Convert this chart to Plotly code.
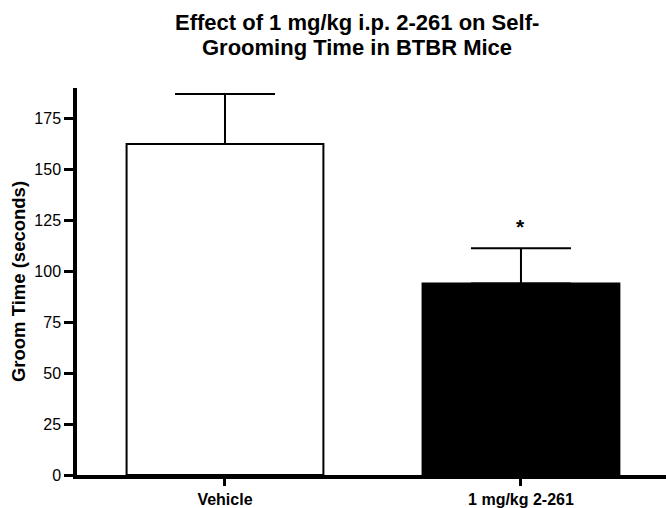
import plotly.graph_objects as go

categories = ["Vehicle", "1 mg/kg 2-261"]
means = [162.5, 94.0]
sem = [24.6, 17.3]
bar_colors = ["white", "black"]
y_ticks = [0, 25, 50, 75, 100, 125, 150, 175]
sig_marks = ["", "*"]
title_lines = ["Effect of 1 mg/kg i.p. 2-261 on Self-", "Grooming Time in BTBR Mice"]

FONT = "Liberation Sans, Arial, Helvetica, sans-serif"

fig = go.Figure()
fig.add_trace(go.Bar(
    x=categories, y=means, width=0.665,
    marker=dict(color=bar_colors, line=dict(color="black", width=2)),
    error_y=dict(type="data", symmetric=False, array=sem, arrayminus=[0, 0],
                 color="black", thickness=2, width=50),
    showlegend=False,
))

for c, m, s, mark in zip(categories, means, sem, sig_marks):
    if mark:
        fig.add_annotation(x=c, y=m + s, yshift=8, text="<b>" + mark + "</b>",
                           showarrow=False, yanchor="bottom",
                           font=dict(family=FONT, size=21, color="black"))

top, bottom = 88, 480
ph = bottom - top
for line, yc in zip(title_lines, [22, 47]):
    fig.add_annotation(xref="paper", yref="paper", x=(357 - 77) / (666 - 77),
                       y=(bottom - yc) / ph, xanchor="center", yanchor="middle",
                       text="<b>" + line + "</b>", showarrow=False,
                       font=dict(family=FONT, size=22, color="black"))

fig.update_layout(
    width=666, height=508,
    margin=dict(l=77, r=0, t=top, b=508 - bottom),
    paper_bgcolor="white", plot_bgcolor="white",
    font=dict(family=FONT, color="black"),
    xaxis=dict(range=[-0.5, 1.49], showline=True, linecolor="black", linewidth=3.5,
               ticks="outside", ticklen=7, tickwidth=2.5, tickcolor="black",
               tickfont=dict(family=FONT, size=16, color="black"),
               tickprefix="<b>", ticksuffix="</b>", showgrid=False, zeroline=False),
    yaxis=dict(range=[0, 190], showline=True, linecolor="black", linewidth=3.5,
               tickvals=y_ticks, ticks="outside", ticklen=9, tickwidth=2.5, tickcolor="black",
               tickfont=dict(family=FONT, size=16, color="black"),
               tickprefix="<b>", ticksuffix="</b>",
               showgrid=False, zeroline=False,
               title=dict(text="<b>Groom Time (seconds)</b>", standoff=5,
                          font=dict(family=FONT, size=18.5, color="black"))),
)

fig.write_html("out.html")
